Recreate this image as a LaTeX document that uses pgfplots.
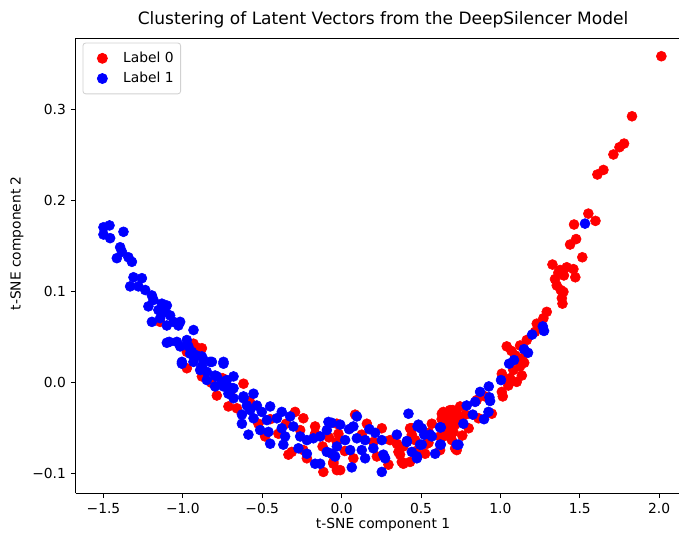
\documentclass[border=0pt]{standalone}
\usepackage{pgfplots}
\pgfplotsset{compat=1.18}
\usepackage{fontspec}
\setmainfont{DejaVu Sans}

\pgfplotstableread{
x y
2.014 0.359
1.829 0.293
1.779 0.263
1.750 0.259
1.712 0.251
1.649 0.234
1.611 0.229
1.554 0.186
1.599 0.178
1.464 0.174
1.477 0.158
1.439 0.152
1.516 0.138
1.328 0.130
1.418 0.127
1.460 0.125
1.376 0.124
1.344 0.114
1.472 0.116
1.355 0.107
1.397 0.100
1.387 0.093
1.365 0.121
1.400 0.118
1.380 0.102
1.391 0.087
1.292 0.078
1.271 0.071
1.229 0.065
1.218 0.056
1.166 0.047
1.124 0.041
1.040 0.040
1.135 0.027
1.124 0.018
1.082 0.014
1.009 0.010
1.135 0.008
1.061 0.005
1.103 0.001
1.050 -0.003
1.009 -0.010
0.904 -0.015
1.015 -0.015
0.851 -0.019
0.746 -0.026
0.683 -0.030
0.641 -0.032
0.662 -0.035
0.726 -0.034
0.683 -0.039
0.946 -0.034
0.862 -0.039
0.715 -0.046
0.673 -0.048
0.568 -0.045
0.704 -0.054
0.442 -0.050
0.620 -0.059
0.694 -0.063
0.715 -0.072
0.547 -0.066
0.463 -0.063
0.389 -0.070
0.620 -0.074
0.389 -0.089
0.368 -0.079
0.630 -0.040
0.655 -0.045
0.700 -0.030
0.735 -0.040
0.660 -0.052
1.095 0.030
1.150 0.022
1.070 0.035
0.780 -0.035
0.800 -0.050
0.760 -0.058
0.085 -0.035
-0.030 -0.045
0.159 -0.045
0.253 -0.050
0.431 -0.050
0.631 -0.034
0.704 -0.043
0.694 -0.056
-0.020 -0.056
0.127 -0.057
0.305 -0.063
0.348 -0.067
0.442 -0.057
0.537 -0.067
0.641 -0.059
0.358 -0.076
0.379 -0.087
0.074 -0.083
0.222 -0.081
-0.009 -0.096
-0.052 -0.087
0.295 -0.090
0.725 -0.074
0.526 -0.078
0.431 -0.087
-0.618 -0.001
-0.786 -0.014
-0.713 -0.026
-0.660 -0.028
-0.293 -0.032
-0.241 -0.039
-0.167 -0.048
-0.167 -0.056
-0.261 -0.052
-0.398 -0.056
-0.524 -0.045
-0.482 -0.059
-0.335 -0.079
-0.314 -0.076
-0.241 -0.074
-0.219 -0.083
-0.115 -0.098
-0.052 -0.089
-0.030 -0.065
-0.880 0.038
-0.030 -0.096
-1.143 0.067
-0.933 0.043
-0.902 0.038
-0.975 0.034
-0.975 0.016
-0.880 0.007
-0.750 0.005
-0.820 0.000
-0.700 -0.010
-0.580 -0.020
-0.450 -0.040
-0.350 -0.045
-0.120 -0.070
-0.080 -0.060
0.020 -0.075
0.200 -0.065
0.550 -0.055
0.470 -0.075
}\redtable

\pgfplotstableread{
x y
-1.500 0.171
-1.462 0.173
-1.500 0.163
-1.458 0.159
-1.374 0.166
-1.395 0.149
-1.384 0.144
-1.416 0.137
-1.343 0.138
-1.321 0.133
-1.311 0.116
-1.258 0.115
-1.332 0.106
-1.280 0.106
-1.237 0.102
-1.195 0.096
-1.185 0.091
-1.217 0.084
-1.132 0.087
-1.101 0.085
-1.154 0.080
-1.111 0.078
-1.195 0.067
-1.143 0.071
-1.080 0.074
-1.101 0.063
-1.059 0.067
-1.017 0.067
-1.028 0.063
-0.933 0.058
-1.086 0.045
-1.038 0.045
-1.017 0.040
-0.975 0.047
-0.965 0.040
-0.943 0.034
-0.912 0.030
-1.006 0.023
-0.933 0.023
-0.870 0.025
-0.817 0.023
-0.744 0.023
-1.101 0.044
-1.006 0.021
-0.954 0.032
-0.880 0.029
-0.828 0.023
-0.891 0.014
-0.849 0.012
-0.786 0.007
-0.723 0.003
-0.681 0.007
-0.744 -0.004
-0.681 -0.006
-0.618 -0.015
-0.555 -0.012
-0.744 0.021
-0.880 0.018
-0.797 0.008
-0.849 0.003
-0.754 0.001
-0.723 -0.003
-0.691 -0.006
-0.797 -0.004
-0.713 -0.012
-0.681 -0.017
-0.618 -0.017
-0.534 -0.025
-0.450 -0.026
-0.597 -0.025
-0.576 -0.030
-0.628 -0.035
-0.503 -0.032
-0.377 -0.032
-0.408 -0.039
-0.324 -0.037
-0.555 -0.039
-0.471 -0.041
-0.628 -0.045
-0.513 -0.052
-0.587 -0.057
-0.461 -0.054
-0.377 -0.050
-0.304 -0.048
-0.356 -0.059
-0.450 -0.067
-0.367 -0.068
-0.261 -0.059
-0.219 -0.063
-0.178 -0.061
-0.083 -0.043
-0.093 -0.052
-0.135 -0.059
-0.272 -0.072
-0.219 -0.078
-0.167 -0.089
-0.135 -0.089
-0.093 -0.076
-0.041 -0.081
0.096 -0.037
-0.062 -0.044
-0.009 -0.046
0.074 -0.048
0.175 -0.051
0.047 -0.051
0.211 -0.055
0.348 -0.057
0.484 -0.046
0.505 -0.050
0.557 -0.057
0.620 -0.049
0.022 -0.063
0.096 -0.061
0.148 -0.063
0.253 -0.063
0.411 -0.065
0.494 -0.068
0.620 -0.068
0.725 -0.068
-0.030 -0.070
0.054 -0.074
0.127 -0.074
0.200 -0.072
0.263 -0.079
0.442 -0.076
0.589 -0.078
0.474 -0.083
0.148 -0.083
0.274 -0.083
-0.062 -0.078
0.064 -0.093
0.253 -0.098
1.533 0.175
1.267 0.062
1.275 0.057
1.200 0.053
1.149 0.037
1.174 0.033
1.086 0.025
1.055 0.021
1.004 0.003
0.927 -0.004
0.872 -0.010
0.931 -0.016
0.935 -0.020
0.841 -0.021
0.788 -0.025
0.925 -0.032
0.826 -0.035
0.897 -0.040
0.767 -0.045
0.625 -0.049
0.421 -0.034
0.478 -0.048
0.499 -0.050
0.520 -0.057
0.568 -0.059
0.736 -0.068
0.625 -0.068
0.505 -0.068
0.411 -0.064
0.474 -0.081
}\bluetable

\begin{document}
\begin{tikzpicture}
\begin{axis}[
  at={(0,0)}, anchor=south west,
  scale only axis, width=434.4bp, height=327.8bp,
  xmin=-1.675, xmax=2.125, ymin=-0.1215, ymax=0.379,
  axis y line*=left,
  axis line style={line width=0.7bp, black},
  tick align=outside, tick pos=left,
  major tick length=3.5bp,
  tick style={line width=0.7bp, black},
  xtick={-1.5,-1,-0.5,0,0.5,1,1.5,2},
  xticklabels={−1.5,−1.0,−0.5,0.0,0.5,1.0,1.5,2.0},
  ytick={-0.1,0,0.1,0.2,0.3},
  yticklabels={−0.1,0.0,0.1,0.2,0.3},
  tick label style={font=\fontsize{10}{12}\selectfont},
  legend cell align=left,
  legend style={at={(0.0113,0.99)}, anchor=north west,
    draw=black!18, rounded corners=2bp, line width=0.6bp,
    font=\fontsize{10}{12}\selectfont,
    inner xsep=3bp, inner ysep=4.5bp, row sep=1.5bp},
  legend image code/.code={\path[draw=none,fill=none] (0bp,0) -- (24bp,0); \draw[#1, mark size=3.6bp] plot coordinates {(11bp,0)};},
]
\addplot[only marks, mark=*, color=red, mark size=3.6bp, mark options={draw=red, fill=red}] table[x=x,y=y] {\redtable};
\addlegendentry{Label 0}
\addplot[only marks, mark=*, color=blue, mark size=3.6bp, mark options={draw=blue, fill=blue}] table[x=x,y=y] {\bluetable};
\addlegendentry{Label 1}
\end{axis}
\node[font=\fontsize{12.3}{14}\selectfont] at (221.3bp,340.8bp) {Clustering of Latent Vectors from the DeepSilencer Model};
\node[font=\fontsize{10}{12}\selectfont] at (221.3bp,-22.8bp) {t-SNE component 1};
\node[font=\fontsize{10}{12}\selectfont, rotate=90] at (-42.3bp,180bp) {t-SNE component 2};
\pgfresetboundingbox
\useasboundingbox (-54.5bp,-29.3bp) rectangle (434.4bp,355.2bp);
\end{tikzpicture}
\end{document}
